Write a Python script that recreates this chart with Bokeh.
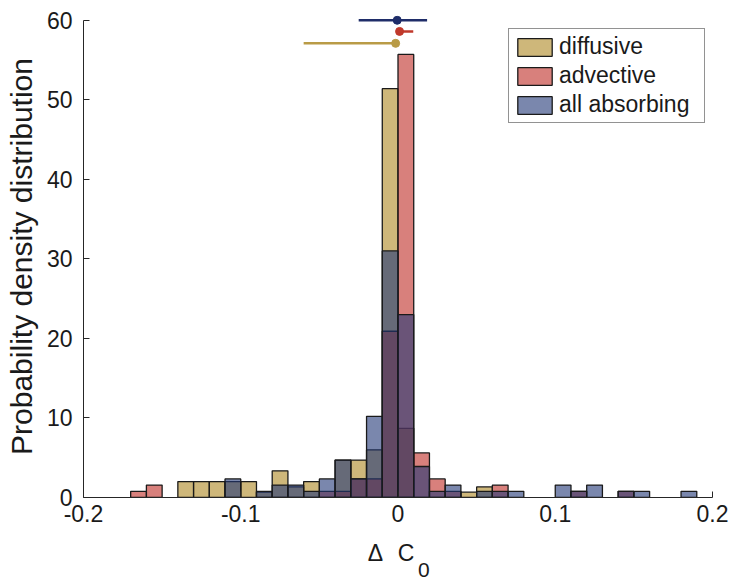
import numpy as np
from bokeh.plotting import figure
from bokeh.models import (Range1d, Legend, LegendItem, FixedTicker, ColumnDataSource,
                          LinearAxis)
from bokeh.embed import file_html
from bokeh.resources import INLINE

# ---- data ----
bin_width = 0.01
bin_left = [-0.17, -0.16, -0.15, -0.14, -0.13, -0.12, -0.11, -0.10, -0.09, -0.08,
            -0.07, -0.06, -0.05, -0.04, -0.03, -0.02, -0.01, 0.00, 0.01, 0.02,
            0.03, 0.04, 0.05, 0.06, 0.07, 0.08, 0.09, 0.10, 0.11, 0.12,
            0.13, 0.14, 0.15, 0.16, 0.17, 0.18]

diffusive = [0, 0, 0, 2.0, 2.0, 2.0, 2.0, 2.0, 0.67, 3.35,
             1.33, 2.0, 0, 4.7, 4.7, 6.0, 51.4, 8.7, 0, 0,
             0, 0.67, 1.33, 0, 0, 0, 0, 0, 0, 0,
             0, 0, 0, 0, 0, 0]
advective = [0.78, 1.56, 0, 0, 0, 0, 0, 0, 0, 0,
             0, 0, 0.78, 0.78, 2.34, 2.34, 20.9, 55.7, 5.6, 2.34,
             0.78, 0, 0, 1.56, 0, 0, 0, 0, 0.78, 0,
             0, 0.78, 0, 0, 0, 0]
all_absorbing = [0, 0, 0, 0, 0, 0, 2.34, 0, 0.78, 1.56,
                 1.56, 0.78, 2.34, 4.7, 2.34, 10.2, 31.0, 23.0, 3.9, 0.78,
                 1.56, 0, 0.78, 0.78, 0.78, 0, 0, 1.56, 0.78, 1.56,
                 0, 0.78, 0.78, 0, 0, 0.78]

series_names = ["diffusive", "advective", "all absorbing"]
series_values = [diffusive, advective, all_absorbing]
series_colors = ["#AD8721", "#BE2B25", "#213776"]

# summary points with horizontal error bars (center, low, high, height)
err_center = [-0.0015, 0.001, -0.0005]
err_low = [-0.060, -0.001, -0.025]
err_high = [-0.0015, 0.0097, 0.0185]
err_y = [57.1, 58.6, 60.0]
err_colors = ["#B99B46", "#C0392B", "#1F2D69"]

x_ticks = [-0.2, -0.1, 0, 0.1, 0.2]
x_tick_labels = ["-0.2", "-0.1", "0", "0.1", "0.2"]
y_ticks = [0, 10, 20, 30, 40, 50, 60]

# x-axis title "Δ C₀", written as text pieces anchored along the x scale
xlabel_main = ["Δ", "C"]
xlabel_main_at = [-0.0143, 0.0051]
xlabel_sub = ["0"]
xlabel_sub_at = [0.0165]

FONT = "Liberation Sans"
INK = "#262626"
TXT = "#1a1a1a"

p = figure(width=735, height=579, x_range=Range1d(-0.2, 0.2), y_range=Range1d(0, 60.6),
           output_backend="svg", toolbar_location=None,
           min_border_left=83, min_border_right=23, min_border_top=15, min_border_bottom=82)
p.outline_line_color = None
p.grid.visible = False
p.background_fill_color = "white"
p.border_fill_color = "white"

renderers = []
for name, vals, col in zip(series_names, series_values, series_colors):
    left = [l for l, v in zip(bin_left, vals) if v > 0]
    top = [v for v in vals if v > 0]
    right = [l + bin_width for l in left]
    src = ColumnDataSource(dict(left=left, right=right, top=top, bottom=[0] * len(top)))
    r = p.quad(left="left", right="right", top="top", bottom="bottom", source=src,
               fill_color=col, fill_alpha=0.6, line_color="#1a1a1a", line_width=1.3)
    renderers.append(r)

esrc = ColumnDataSource(dict(x=err_center, x0=err_low, x1=err_high, y=err_y, c=err_colors))
p.segment(x0="x0", y0="y", x1="x1", y1="y", source=esrc, line_color="c", line_width=2.5)
p.scatter(x="x", y="y", source=esrc, size=8, fill_color="c", line_color="c", marker="circle")

# axes
for ax in (p.xaxis[0], p.yaxis[0]):
    ax.axis_line_color = INK
    ax.axis_line_width = 1
    ax.major_tick_line_color = INK
    ax.major_tick_in = 6
    ax.major_tick_out = 0
    ax.minor_tick_line_color = None
    ax.major_label_text_font = FONT
    ax.major_label_text_font_size = "23px"
    ax.major_label_text_color = TXT

p.xaxis.ticker = FixedTicker(ticks=x_ticks)
p.xaxis.major_label_overrides = {t: s for t, s in zip(x_ticks, x_tick_labels)}
p.xaxis.major_label_standoff = 7
p.yaxis.ticker = FixedTicker(ticks=y_ticks)
p.yaxis.bounds = (0, 60)
p.yaxis.major_label_standoff = 11
p.yaxis.axis_label = "Probability density distribution"
p.yaxis.axis_label_text_font = FONT
p.yaxis.axis_label_text_font_size = "30px"
p.yaxis.axis_label_text_font_style = "normal"
p.yaxis.axis_label_text_color = TXT
p.yaxis.axis_label_standoff = 6


def text_axis(labels, at, size, standoff):
    ax = LinearAxis(ticker=FixedTicker(ticks=at),
                    major_label_overrides={t: s for t, s in zip(at, labels)})
    ax.axis_line_color = None
    ax.major_tick_line_color = None
    ax.minor_tick_line_color = None
    ax.major_label_text_font = FONT
    ax.major_label_text_font_size = size
    ax.major_label_text_color = TXT
    ax.major_label_standoff = standoff
    p.add_layout(ax, "below")
    return ax


text_axis(xlabel_main, xlabel_main_at, "23px", 9)
text_axis(xlabel_sub, xlabel_sub_at, "21px", -12)

legend = Legend(items=[LegendItem(label=n, renderers=[r]) for n, r in zip(series_names, renderers)],
                location=(425, 374))
legend.label_text_font = FONT
legend.label_text_font_size = "23px"
legend.label_text_color = TXT
legend.label_width = 141
legend.glyph_width = 43
legend.glyph_height = 22
legend.spacing = 2
legend.padding = 4
legend.margin = 0
legend.label_standoff = 3
legend.border_line_color = INK
legend.border_line_width = 1
legend.background_fill_alpha = 1
p.add_layout(legend)

open("out.html", "w").write(file_html(p, INLINE))
